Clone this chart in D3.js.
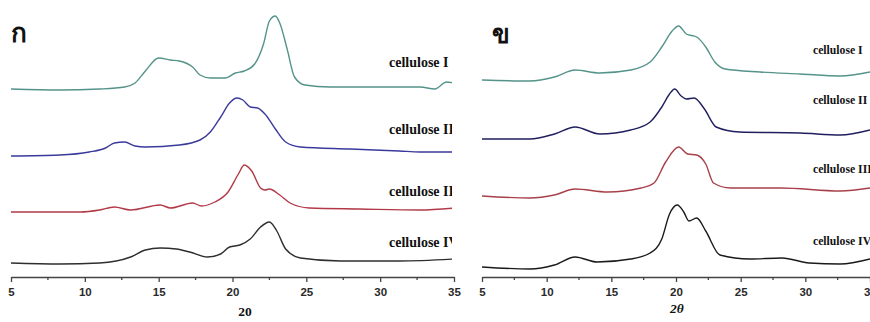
<!DOCTYPE html>
<html>
<head>
<meta charset="utf-8">
<script src="https://cdn.jsdelivr.net/npm/d3@7/dist/d3.min.js"></script>
<style>
  body { margin: 0; background: #fff; }
  svg { display: block; }
  .tick text { font-family: "Liberation Sans", Arial, sans-serif; font-size: 11.5px; font-weight: bold; fill: #2a2a2a; }
  .lbl { font-family: "Liberation Serif", "Times New Roman", serif; font-weight: bold; fill: #111; }
</style>
</head>
<body>
<svg id="chart" width="870" height="322"></svg>
<script>
// series names
const seriesNames = ['cellulose I', 'cellulose II', 'cellulose III', 'cellulose IV'];
const majorTicks = [5, 10, 15, 20, 25, 30, 35];
const minorTicks = [7.5, 12.5, 17.5, 22.5, 27.5, 32.5];

// panel ก (left): [2theta, stacked intensity]
const leftI = [[5,188],[8.3,187],[11,188],[12.7,190],[13.4,194],[14.1,206],[15,219],[15.8,217],[16.4,216],[17.3,210],[17.8,202],[18.5,199],[19.5,199],[20.2,204],[20.8,206],[21.5,213],[22.1,233],[22.5,256],[22.9,261],[23.2,254],[23.7,228],[24.2,200],[24.9,192],[26.6,190],[30,190],[32.7,190],[33.7,188],[34.5,195],[35,194]];
const leftII = [[5,121],[8.3,122],[10.3,125],[11.4,129],[12,134],[12.7,135],[13.4,131],[14.1,130],[16.4,132],[17.8,137],[18.5,145],[19.2,160],[19.8,174],[20.3,179],[20.7,177],[21.2,170],[21.7,169],[22.2,163],[22.9,148],[23.6,135],[24.6,130],[28,128],[31.3,126],[32.7,125],[35,125]];
const leftIII = [[5,65],[9.7,65],[11,67],[12,70],[13.1,67],[15.1,72],[15.8,69],[17.3,74],[17.9,71],[18.8,75],[19.7,85],[20.4,103],[20.8,112],[21.3,106],[21.9,89],[22.2,87],[22.5,88],[23.2,82],[23.9,74],[25.2,69],[28.6,68],[32.7,67],[35,69]];
const leftIV = [[5,14],[8.3,13],[11,14],[13.1,20],[14.1,27],[15.1,29],[16.2,28],[17.1,25],[18.3,20],[19.2,23],[19.8,30],[20.5,32],[21.2,38],[21.9,50],[22.5,55],[23,46],[23.6,28],[24.6,19],[27.3,16],[31.3,16],[35,18]];

// panel ข (right)
const rightI = [[5,197],[8.7,196],[10.6,200],[12.2,207],[14.1,204],[16.5,207],[18,215],[18.9,230],[19.7,246],[20.2,251],[20.8,243],[21.6,240],[22.3,230],[23,215],[23.8,208],[26.5,205],[29.6,203],[32.7,201],[35,205]];
const rightII = [[5,138],[8.7,138],[10.6,143],[12.2,150],[14.1,143],[16.5,147],[18,155],[18.9,170],[19.5,183],[19.9,188],[20.4,181],[20.8,178],[21.4,179],[22.2,168],[23.1,150],[24.9,145],[29.6,144],[32.7,142],[35,147]];
const rightIII = [[5,81],[8.7,79],[10.6,82],[12.2,88],[14.7,85],[17.3,89],[18.3,94],[19.2,115],[20.2,130],[20.9,123],[21.6,122],[22.3,113],[22.9,94],[24.2,89],[28.1,89],[32.7,86],[35,89]];
const rightIV = [[5,10],[8.7,8],[10.6,12],[12.2,20],[13.9,15],[16.5,18],[18,24],[18.9,38],[19.5,63],[20.1,72],[20.6,65],[21,56],[21.6,59],[22.3,46],[23.4,22],[25.7,18],[28.2,19],[30.3,14],[32.7,13],[35,18]];

const leftColors = ['#54938a', '#3a3a9c', '#b23a48', '#2e2e2e'];
const rightColors = ['#54938a', '#1f1f5e', '#a8404a', '#1a1a1a'];

const svg = d3.select('#chart');
const axisY = 277;

const panels = [
  {x0: 11, x1: 454, clipL: 0, clipR: 452, series: [leftI, leftII, leftIII, leftIV], colors: leftColors,
   labelX: 389, labelSize: 14, labelY: [67, 134, 196, 247], tag: 'ก', tagX: 11, tagY: 42,
   title: '20', titleX: 245, titleY: 316, italic: false},
  {x0: 482, x1: 870, clipL: 470, clipR: 870, series: [rightI, rightII, rightIII, rightIV], colors: rightColors,
   labelX: 813, labelSize: 11.7, labelY: [54, 104, 173, 245], tag: 'ข', tagX: 492, tagY: 43,
   title: '2θ', titleX: 677, titleY: 313, italic: true}
];

panels.forEach((p, pi) => {
  const x = d3.scaleLinear().domain([5, 35]).range([p.x0, p.x1]);
  const y = d3.scaleLinear().domain([0, 268]).range([axisY, 9]);

  const clipId = 'clip' + pi;
  svg.append('clipPath').attr('id', clipId)
    .append('rect').attr('x', p.clipL).attr('y', 0)
    .attr('width', p.clipR - p.clipL).attr('height', 322);

  const g = svg.append('g').attr('clip-path', `url(#${clipId})`);

  const line = d3.line()
    .x((d) => x(d[0]))
    .y((d) => y(d[1]))
    .curve(d3.curveMonotoneX);

  p.series.forEach((s, i) => {
    g.append('path')
      .datum(s)
      .attr('fill', 'none')
      .attr('stroke', p.colors[i])
      .attr('stroke-width', 1.4)
      .attr('d', line);

    g.append('text')
      .attr('class', 'lbl')
      .attr('x', p.labelX)
      .attr('y', p.labelY[i])
      .attr('font-size', p.labelSize)
      .text(seriesNames[i]);
  });

  // axis, not clipped on the left panel
  const ax = svg.append('g')
    .attr('transform', `translate(0,${axisY})`)
    .call(d3.axisBottom(x).tickValues(majorTicks).tickSize(5).tickSizeOuter(0).tickPadding(6));
  ax.select('.domain').attr('stroke', '#444').attr('stroke-width', 1.3);
  ax.selectAll('.tick line').attr('stroke', '#444').attr('stroke-width', 1.3);

  svg.append('g')
    .attr('transform', `translate(0,${axisY})`)
    .selectAll('line')
    .data(minorTicks)
    .enter()
    .append('line')
    .attr('x1', (d) => x(d)).attr('x2', (d) => x(d))
    .attr('y1', 0).attr('y2', 3)
    .attr('stroke', '#444')
    .attr('stroke-width', 1.3);

  svg.append('text')
    .attr('x', p.tagX)
    .attr('y', p.tagY)
    .attr('font-family', '"Noto Sans", "DejaVu Sans", sans-serif')
    .attr('font-size', 26)
    .attr('font-weight', 'bold')
    .attr('fill', '#111')
    .text(p.tag);

  svg.append('text')
    .attr('class', 'lbl')
    .attr('x', p.titleX)
    .attr('y', p.titleY)
    .attr('font-size', 13.5)
    .attr('text-anchor', 'middle')
    .attr('font-style', p.italic ? 'italic' : 'normal')
    .text(p.title);
});
</script>
</body>
</html>
